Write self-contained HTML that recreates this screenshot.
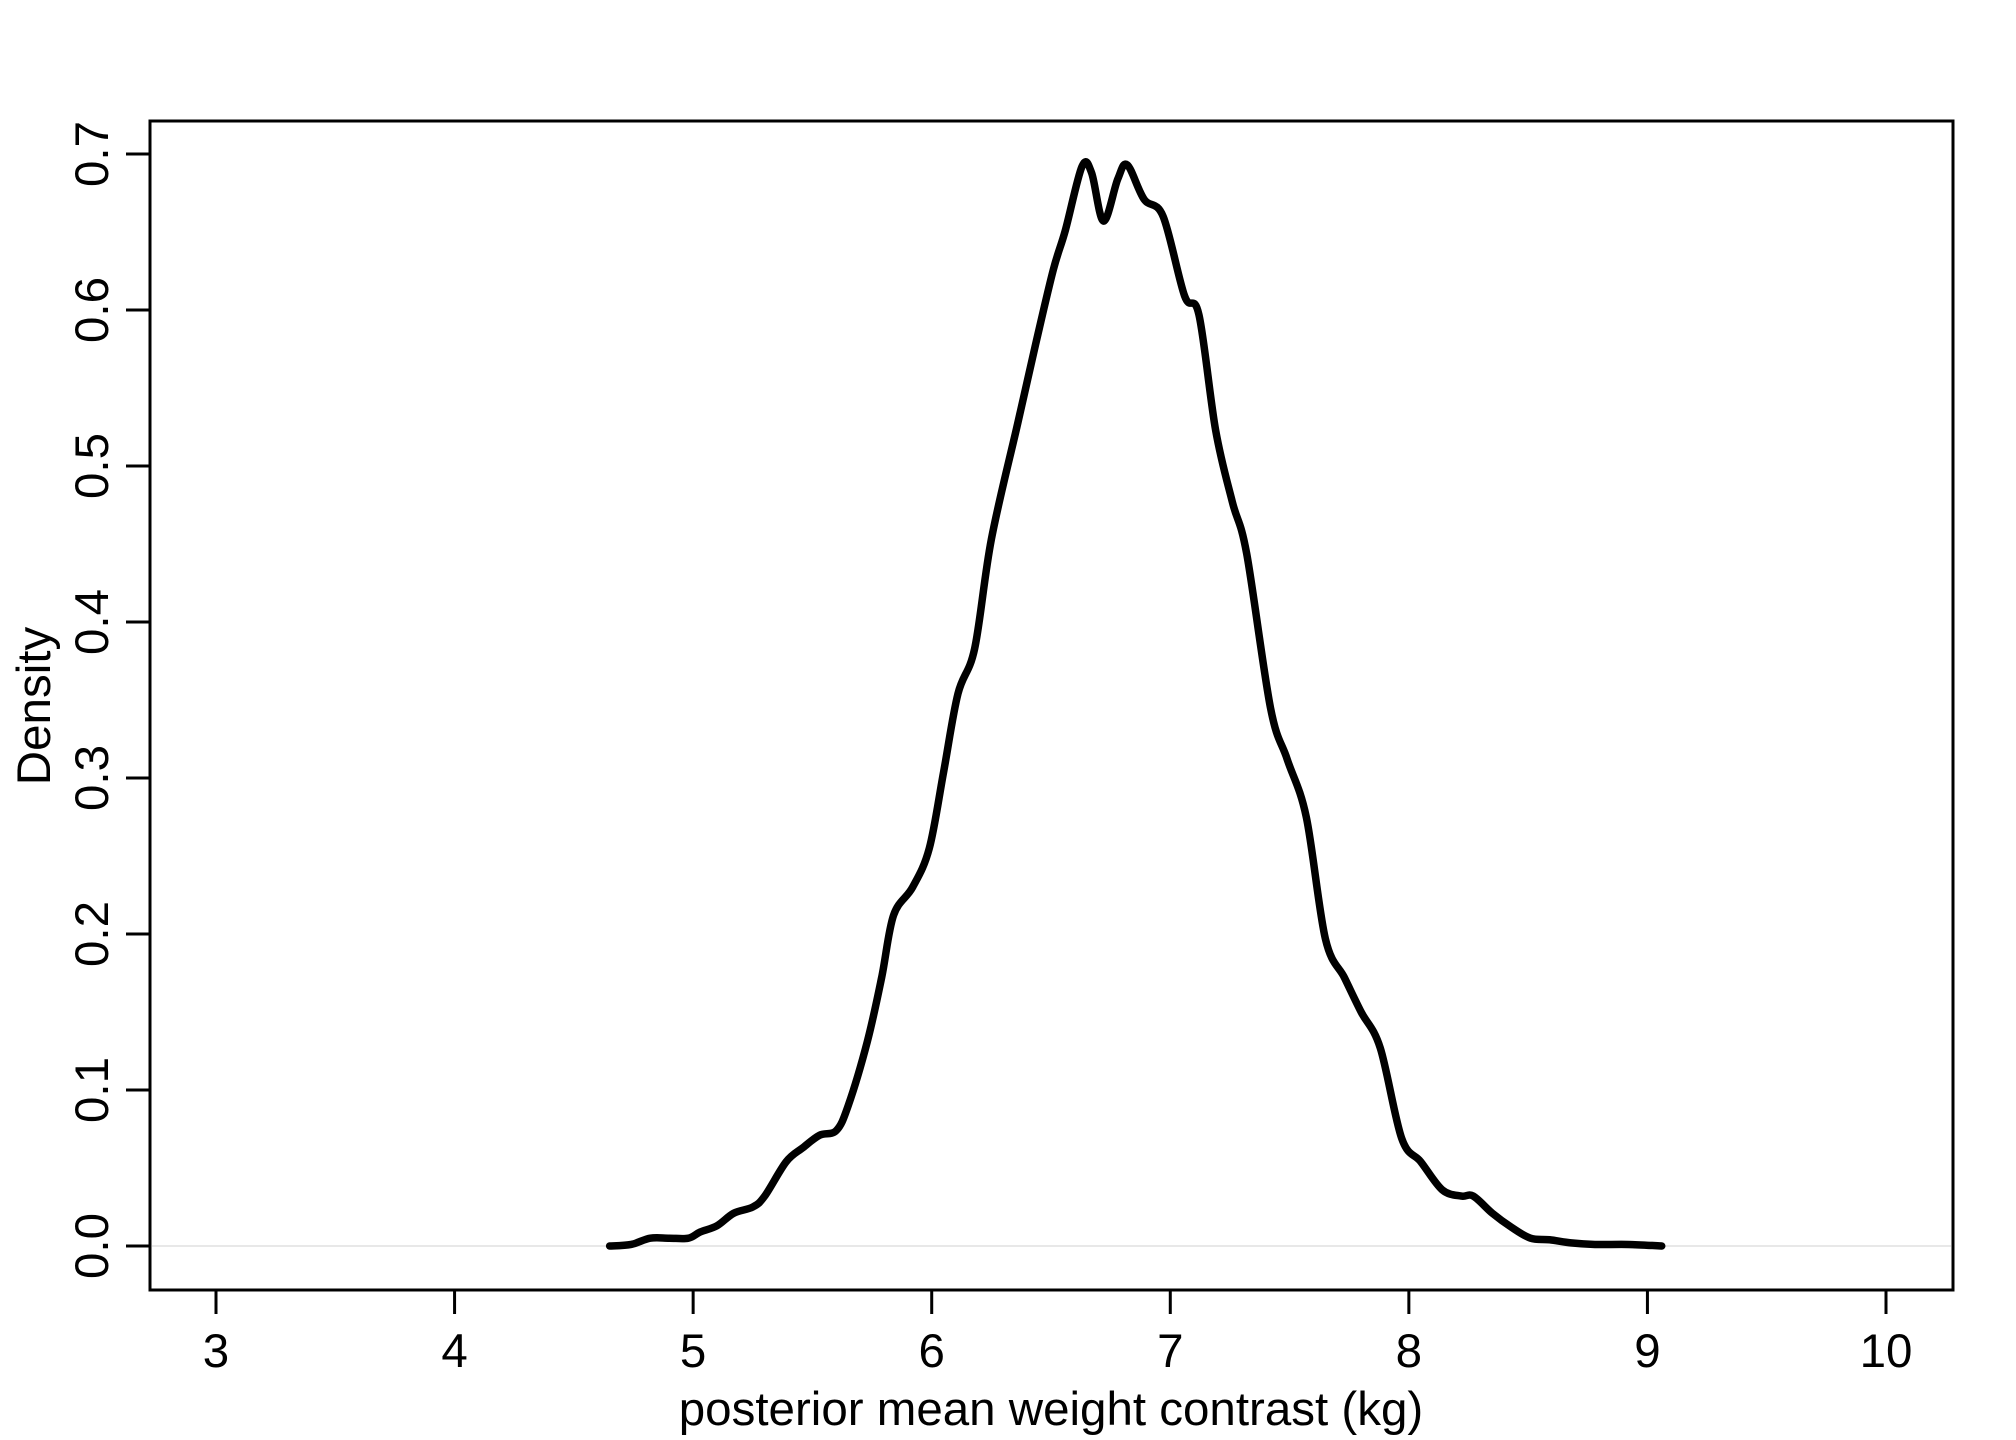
<!DOCTYPE html>
<html><head><meta charset="utf-8"><style>
html,body{margin:0;padding:0;background:#fff;}
svg{display:block;font-family:"Liberation Sans",sans-serif;}
</style></head><body>
<svg id="chart" width="2016" height="1440" viewBox="0 0 2016 1440">
<rect x="150" y="121" width="1803" height="1169" fill="none" stroke="#000" stroke-width="3"/>
<g id="xaxis"></g>
<g id="yaxis"></g>
<line id="zero-line" stroke="#e8e8e8" stroke-width="2"/>
<path id="curve" fill="none" stroke="#000" stroke-width="7.5" stroke-linejoin="round" stroke-linecap="round"/>
<text x="1051" y="1425" font-size="47.5" text-anchor="middle">posterior mean weight contrast (kg)</text>
<text transform="translate(50,706) rotate(-90)" font-size="47.5" text-anchor="middle">Density</text>
</svg>
<script>
const xTicks = [3,4,5,6,7,8,9,10];
const yTicks = [0,0.1,0.2,0.3,0.4,0.5,0.6,0.7];
const yTickLabels = ["0.0","0.1","0.2","0.3","0.4","0.5","0.6","0.7"];
const xValues = [4.65,4.74,4.82,4.90,4.98,5.03,5.10,5.17,5.25,5.30,5.39,5.46,5.53,5.60,5.65,5.73,5.79,5.84,5.92,5.99,6.05,6.11,6.18,6.25,6.36,6.44,6.51,6.56,6.63,6.67,6.72,6.78,6.82,6.89,6.97,7.06,7.12,7.19,7.26,7.32,7.42,7.49,7.57,7.65,7.73,7.80,7.88,7.97,8.05,8.14,8.22,8.27,8.35,8.43,8.51,8.59,8.68,8.78,8.92,9.06];
const densities = [0.0,0.001,0.005,0.005,0.005,0.009,0.013,0.021,0.025,0.032,0.054,0.063,0.071,0.074,0.09,0.131,0.172,0.212,0.23,0.255,0.304,0.354,0.383,0.453,0.527,0.581,0.626,0.651,0.692,0.688,0.657,0.684,0.693,0.671,0.66,0.609,0.597,0.523,0.477,0.444,0.345,0.312,0.275,0.197,0.172,0.15,0.127,0.069,0.054,0.036,0.032,0.032,0.021,0.012,0.005,0.004,0.002,0.001,0.001,0.0];

const NS='http://www.w3.org/2000/svg';
function sx(v){return 216 + (v-3)*(1886-216)/7;}
function sy(v){return 1246 - v*1560;}
const xa=document.getElementById('xaxis'), ya=document.getElementById('yaxis');
xTicks.forEach(t=>{
  const l=document.createElementNS(NS,'line');
  l.setAttribute('x1',sx(t));l.setAttribute('x2',sx(t));l.setAttribute('y1',1290);l.setAttribute('y2',1314);
  l.setAttribute('stroke','#000');l.setAttribute('stroke-width','3');
  
  
  xa.appendChild(l);
  const tx=document.createElementNS(NS,'text');
  tx.setAttribute('x',sx(t));tx.setAttribute('y',1367);tx.setAttribute('font-size','47.5');tx.setAttribute('text-anchor','middle');
  tx.textContent=String(t);
  
  
  xa.appendChild(tx);
});
yTicks.forEach((t,i)=>{
  const l=document.createElementNS(NS,'line');
  l.setAttribute('x1',126);l.setAttribute('x2',150);l.setAttribute('y1',sy(t));l.setAttribute('y2',sy(t));
  l.setAttribute('stroke','#000');l.setAttribute('stroke-width','3');
  
  
  ya.appendChild(l);
  const tx=document.createElementNS(NS,'text');
  tx.setAttribute('transform','translate(108,'+sy(t)+') rotate(-90)');
  tx.setAttribute('font-size','47.5');tx.setAttribute('text-anchor','middle');
  tx.textContent=yTickLabels[i];
  
  
  ya.appendChild(tx);
});
const z=document.getElementById('zero-line');
z.setAttribute('x1',152);z.setAttribute('x2',1951);z.setAttribute('y1',sy(0));z.setAttribute('y2',sy(0));
const pts=xValues.map((v,i)=>[sx(v),sy(densities[i])]);
let d='M'+pts[0][0]+','+pts[0][1];
for(let i=0;i<pts.length-1;i++){
  const p0=pts[Math.max(0,i-1)],p1=pts[i],p2=pts[i+1],p3=pts[Math.min(pts.length-1,i+2)];
  const c1=[p1[0]+(p2[0]-p0[0])/6,p1[1]+(p2[1]-p0[1])/6];
  const c2=[p2[0]-(p3[0]-p1[0])/6,p2[1]-(p3[1]-p1[1])/6];
  d+=' C'+c1[0]+','+c1[1]+' '+c2[0]+','+c2[1]+' '+p2[0]+','+p2[1];
}
document.getElementById('curve').setAttribute('d',d);
</script>
</body></html>
